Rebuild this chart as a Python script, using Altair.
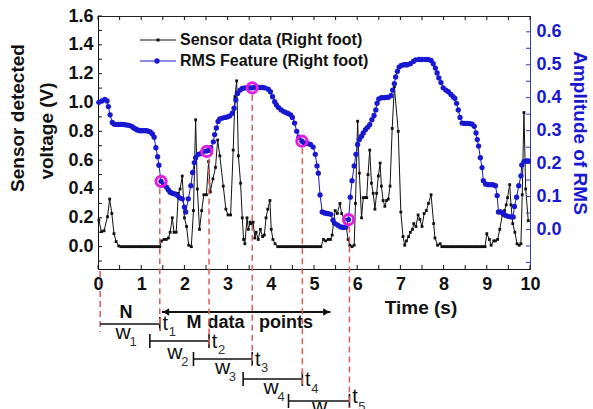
import altair as alt
import pandas as pd

# ---------------- data ----------------
sensor_t = [0.02, 0.08, 0.14, 0.22, 0.27, 0.32, 0.37, 0.42, 0.48,
            0.53, 0.58, 0.63, 0.68, 0.73, 0.78, 0.83, 0.88, 0.93, 0.98,
            1.03, 1.08, 1.13, 1.18, 1.23, 1.28, 1.33, 1.38, 1.43,
            1.47, 1.53, 1.58, 1.63, 1.67, 1.72, 1.76, 1.81, 1.86, 1.90,
            1.95, 2.00, 2.05, 2.10, 2.16, 2.21, 2.26, 2.30, 2.35, 2.40,
            2.45, 2.51, 2.56, 2.60, 2.66, 2.72, 2.77, 2.82, 2.90, 2.96,
            3.01, 3.07, 3.13, 3.17, 3.21, 3.25, 3.30, 3.34, 3.37, 3.40,
            3.45, 3.48, 3.52, 3.55, 3.59, 3.63, 3.66, 3.71, 3.76, 3.81,
            3.85, 3.89, 3.93, 3.98, 4.01, 4.05, 4.10,
            4.16, 4.21, 4.26, 4.31, 4.36, 4.41, 4.46, 4.51, 4.56, 4.61,
            4.66, 4.71, 4.76, 4.81, 4.86, 4.91, 4.96, 5.01, 5.06, 5.11, 5.16,
            5.22, 5.27, 5.33, 5.38, 5.42, 5.45, 5.49, 5.54, 5.60, 5.64,
            5.70, 5.75, 5.79, 5.83, 5.88, 5.93, 5.96, 6.01, 6.05, 6.10,
            6.14, 6.18, 6.22, 6.25, 6.29, 6.33, 6.37, 6.41, 6.45, 6.49,
            6.53, 6.56, 6.60, 6.64, 6.68, 6.72, 6.76, 6.81, 6.86, 6.95,
            7.01, 7.06, 7.10, 7.14, 7.19, 7.23, 7.28, 7.31, 7.36, 7.41,
            7.45, 7.50, 7.55, 7.60, 7.65, 7.71, 7.77, 7.80, 7.86, 7.92,
            7.96, 8.01, 8.06, 8.11, 8.16, 8.21, 8.26, 8.31, 8.36, 8.41,
            8.46, 8.51, 8.56, 8.61, 8.66, 8.71, 8.76, 8.81, 8.86, 8.91, 8.96,
            9.00, 9.06, 9.10, 9.16, 9.20, 9.25, 9.30, 9.36, 9.41, 9.45,
            9.48, 9.53, 9.56, 9.60, 9.65, 9.70, 9.75, 9.79, 9.82, 9.86,
            9.90, 9.96]
sensor_v = [0.185, 0.104, 0.110, 0.208, 0.330, 0.230, 0.090, 0.035, 0.005,
            0.0, 0.0, 0.0, 0.0, 0.0, 0.0, 0.0, 0.0, 0.0, 0.0,
            0.0, 0.0, 0.0, 0.0, 0.0, 0.0, 0.0, 0.0, 0.0,
            0.04, 0.05, 0.05, 0.06, 0.10, 0.20, 0.10, 0.10, 0.37, 0.40,
            0.49, 0.20, 0.14, 0.01, 0.00, 0.25, 0.88, 0.40, 0.12, 0.25,
            0.36, 0.36, 0.59, 0.38, 0.47, 0.55, 0.74, 0.63, 0.42, 0.26,
            0.22, 0.22, 0.67, 1.04, 1.15, 0.63, 0.44, 0.20, 0.05, 0.02,
            0.20, 0.12, 0.17, 0.16, 0.17, 0.06, 0.10, 0.05, 0.12, 0.07,
            0.08, 0.20, 0.26, 0.32, 0.12, 0.05, 0.02,
            0.0, 0.0, 0.0, 0.0, 0.0, 0.0, 0.0, 0.0, 0.0, 0.0,
            0.0, 0.0, 0.0, 0.0, 0.0, 0.0, 0.0, 0.0, 0.0, 0.0, 0.0,
            0.05, 0.04, 0.05, 0.05, 0.08, 0.16, 0.25, 0.23, 0.30, 0.23,
            0.19, 0.13, 0.05, 0.01, 0.00, 0.01, 0.30, 0.87, 0.51, 0.20,
            0.34, 0.34, 0.34, 0.50, 0.67, 0.44, 0.37, 0.26, 0.37, 0.49,
            0.58, 0.42, 0.32, 0.28, 0.32, 0.33, 0.42, 0.82, 1.11, 0.80,
            0.24, 0.07, 0.01, 0.04, 0.07, 0.10, 0.12, 0.16, 0.14, 0.22,
            0.19, 0.14, 0.23, 0.25, 0.30, 0.36, 0.16, 0.06, 0.01, 0.02,
            0.0, 0.0, 0.0, 0.0, 0.0, 0.0, 0.0, 0.0, 0.0, 0.0,
            0.0, 0.0, 0.0, 0.0, 0.0, 0.0, 0.0, 0.0, 0.0, 0.0, 0.0,
            0.09, 0.05, 0.01, 0.04, 0.04, 0.05, 0.12, 0.22, 0.25, 0.29,
            0.34, 0.43, 0.29, 0.16, 0.10, 0.02, 0.01, 0.02, 0.36, 0.93,
            0.40, 0.18]

rms_t = [0.02, 0.09, 0.16, 0.21, 0.24, 0.28, 0.33, 0.37, 0.42, 0.47,
         0.52, 0.57, 0.62, 0.67, 0.72, 0.78, 0.82, 0.86, 0.90, 0.93,
         0.97, 1.01, 1.05, 1.09, 1.13, 1.17, 1.21, 1.26, 1.30, 1.34,
         1.38, 1.41, 1.46, 1.52, 1.59, 1.63, 1.67, 1.72, 1.78, 1.84,
         1.89, 1.95, 2.00, 2.03, 2.09, 2.15, 2.19, 2.23, 2.26, 2.32,
         2.38, 2.43, 2.51, 2.56, 2.61, 2.67, 2.70, 2.74, 2.78, 2.82,
         2.88, 2.94, 3.00, 3.05, 3.11, 3.15, 3.19, 3.23, 3.29, 3.34,
         3.40, 3.46, 3.52, 3.57, 3.63, 3.69, 3.75, 3.81, 3.86, 3.94,
         3.99, 4.04, 4.09, 4.13, 4.18, 4.24, 4.30, 4.35, 4.40, 4.46,
         4.50, 4.55, 4.60, 4.65, 4.72, 4.77, 4.85, 4.92, 4.98, 5.03,
         5.07, 5.10, 5.14, 5.19, 5.25, 5.29, 5.33, 5.39, 5.44, 5.49,
         5.55, 5.61, 5.65, 5.69, 5.74, 5.80, 5.84, 5.88, 5.93, 5.97,
         6.01, 6.05, 6.10, 6.14, 6.19, 6.24, 6.29, 6.34, 6.39, 6.43,
         6.46, 6.50, 6.56, 6.62, 6.67, 6.72, 6.78, 6.82, 6.86, 6.89,
         6.93, 6.97, 7.02, 7.08, 7.12, 7.16, 7.23, 7.30, 7.35, 7.43,
         7.50, 7.58, 7.64, 7.71, 7.76, 7.81, 7.85, 7.89, 7.94, 7.99,
         8.05, 8.11, 8.17, 8.22, 8.26, 8.30, 8.34, 8.38, 8.43, 8.49,
         8.55, 8.61, 8.66, 8.71, 8.75, 8.78, 8.81, 8.85, 8.89, 8.92,
         8.97, 9.03, 9.09, 9.14, 9.20, 9.24, 9.27, 9.32, 9.38, 9.43,
         9.49, 9.55, 9.61, 9.64, 9.69, 9.74, 9.79, 9.81, 9.86, 9.91,
         9.96]
rms_a = [0.386, 0.390, 0.395, 0.390, 0.373, 0.348, 0.325, 0.320, 0.319, 0.319,
         0.319, 0.319, 0.318, 0.317, 0.316, 0.313, 0.309, 0.306, 0.303, 0.301,
         0.300, 0.300, 0.300, 0.300, 0.300, 0.298, 0.296, 0.290, 0.280, 0.248,
         0.221, 0.195, 0.146, 0.135, 0.128, 0.120, 0.113, 0.110, 0.108, 0.103,
         0.096, 0.093, 0.068, 0.053, 0.093, 0.133, 0.173, 0.203, 0.218, 0.228,
         0.230, 0.236, 0.238, 0.240, 0.248, 0.266, 0.288, 0.308, 0.328, 0.336,
         0.338, 0.340, 0.342, 0.345, 0.353, 0.368, 0.393, 0.413, 0.423, 0.428,
         0.430, 0.430, 0.430, 0.430, 0.431, 0.431, 0.431, 0.431, 0.430, 0.426,
         0.418, 0.403, 0.388, 0.378, 0.370, 0.363, 0.358, 0.355, 0.352, 0.348,
         0.340, 0.323, 0.298, 0.280, 0.268, 0.263, 0.261, 0.258, 0.250, 0.228,
         0.193, 0.171, 0.105, 0.053, 0.050, 0.049, 0.048, 0.046, 0.028, 0.018,
         0.013, 0.008, 0.007, 0.006, 0.008, 0.030, 0.098, 0.148, 0.193, 0.228,
         0.258, 0.273, 0.283, 0.293, 0.303, 0.310, 0.318, 0.333, 0.346, 0.363,
         0.383, 0.396, 0.400, 0.400, 0.401, 0.401, 0.406, 0.423, 0.443, 0.463,
         0.480, 0.493, 0.498, 0.500, 0.500, 0.500, 0.503, 0.510, 0.515, 0.516,
         0.516, 0.516, 0.516, 0.513, 0.503, 0.490, 0.475, 0.460, 0.446, 0.430,
         0.423, 0.418, 0.410, 0.403, 0.398, 0.383, 0.363, 0.340, 0.323, 0.322,
         0.322, 0.321, 0.320, 0.313, 0.293, 0.273, 0.253, 0.218, 0.188, 0.148,
         0.138, 0.136, 0.136, 0.136, 0.133, 0.103, 0.053, 0.053, 0.050, 0.043,
         0.040, 0.038, 0.038, 0.070, 0.098, 0.133, 0.163, 0.196, 0.206, 0.208,
         0.208]

# highlighted RMS samples (circles) and the instants t1..t5
circle_t = [1.46, 2.52, 3.57, 4.72, 5.80]
circle_a = [0.146, 0.237, 0.430, 0.268, 0.030]
instant_t = [1.43, 2.57, 3.57, 4.73, 5.82]
start_t = 0.05
# sliding windows w1..w5 (start, end)
win_start = [0.05, 1.20, 2.21, 3.36, 4.41]
win_end = [1.43, 2.57, 3.57, 4.73, 5.82]
arrow_t = [1.48, 5.38]

x_labels = [0, 1, 2, 3, 4, 5, 6, 7, 8, 9, 10]
v_labels = [0.0, 0.2, 0.4, 0.6, 0.8, 1.0, 1.2, 1.4, 1.6]
a_labels = [0.0, 0.1, 0.2, 0.3, 0.4, 0.5, 0.6]
x_minor = [0, 0.5, 1, 1.5, 2, 2.5, 3, 3.5, 4, 4.5, 5, 5.5, 6, 6.5, 7, 7.5,
           8, 8.5, 9, 9.5, 10]
v_minor = [-0.1, 0.0, 0.1, 0.2, 0.3, 0.4, 0.5, 0.6, 0.7, 0.8, 0.9, 1.0,
           1.1, 1.2, 1.3, 1.4, 1.5, 1.6]
a_minor = [-0.1, -0.05, 0.0, 0.05, 0.1, 0.15, 0.2, 0.25, 0.3, 0.35, 0.4,
           0.45, 0.5, 0.55, 0.6]

# ---------------- style ----------------
W, H = 432, 253
INK = "#111111"
BLUE = "#1818d0"
NAVY = "#3a3a9a"
MAG = "#e01ee0"
RED = "#dd5c5c"
FONT = "Liberation Sans"

xs = alt.Scale(domain=[0, 10], nice=False, zero=False)
xa = alt.Axis(values=x_labels, format="d", labelFontSize=18, labelFontWeight="bold",
              labelColor=INK, labelPadding=6, labelFlush=False, labelOverlap=False,
              ticks=False, grid=False, domainColor=INK, title=None)
vs = alt.Scale(domain=[-0.155, 1.6], nice=False, zero=False)
va = alt.Axis(values=v_labels, format=".1f", orient="left", labelFontSize=18,
              labelFontWeight="bold", labelColor=INK, labelPadding=5,
              labelOverlap=False, ticks=False, grid=False, domainColor=INK, title=None)
ascale = alt.Scale(domain=[-0.12, 0.648], nice=False, zero=False)
aa = alt.Axis(values=a_labels, format=".1f", orient="right", labelFontSize=18,
              labelFontWeight="bold", labelColor=BLUE, labelPadding=6,
              labelOverlap=False, ticks=False, grid=False, domainColor=NAVY, title=None)


def X(f):
    return alt.X(f, type="quantitative", scale=xs, axis=xa)


def YV(f):
    return alt.Y(f, type="quantitative", scale=vs, axis=va)


def YA(f):
    return alt.Y(f, type="quantitative", scale=ascale, axis=aa)


one = pd.DataFrame({"k": [0]})


def txt(text, x, y, size, weight="normal", color=INK, align="center",
        baseline="middle", angle=0):
    return alt.Chart(one).mark_text(
        text=text, fontSize=size, fontWeight=weight, color=color, align=align,
        baseline=baseline, angle=angle).encode(x=alt.value(x), y=alt.value(y))


L = []
R = []

# sensor series
sdf = pd.DataFrame({"t": sensor_t, "v": sensor_v})
L.append(alt.Chart(sdf).mark_line(color=INK, strokeWidth=1).encode(x=X("t"), y=YV("v")))
L.append(alt.Chart(sdf).mark_point(shape="square", filled=True, size=8, color=INK,
                                   opacity=1).encode(x=X("t"), y=YV("v")))

# inner ticks
L.append(alt.Chart(pd.DataFrame({"v": v_minor})).mark_rule(color=INK).encode(
    y=YV("v"), x=alt.value(0), x2=alt.value(4)))
tdf = pd.DataFrame({"t": x_minor})
L.append(alt.Chart(tdf).mark_rule(color=INK).encode(
    x=X("t"), y=alt.value(H), y2=alt.value(H - 4)))
L.append(alt.Chart(tdf).mark_rule(color=INK).encode(
    x=X("t"), y=alt.value(0), y2=alt.value(4)))

# legend (drawn by hand)
L.append(alt.Chart(one).mark_rule(color=INK, strokeWidth=1).encode(
    x=alt.value(42), x2=alt.value(78), y=alt.value(24)))
L.append(alt.Chart(one).mark_point(shape="square", filled=True, size=9, color=INK,
                                   opacity=1).encode(x=alt.value(60), y=alt.value(24)))
L.append(txt("Sensor data (Right foot)", 82, 24, 16, "bold", align="left"))
L.append(alt.Chart(one).mark_rule(color=BLUE, strokeWidth=1).encode(
    x=alt.value(42), x2=alt.value(78), y=alt.value(45)))
L.append(alt.Chart(one).mark_point(shape="circle", filled=True, size=28, color=BLUE,
                                   opacity=1).encode(x=alt.value(59), y=alt.value(45)))
L.append(txt("RMS Feature (Right foot)", 82, 45, 16, "bold", align="left"))

# axis titles
L.append(txt("Sensor detected", -74, 102, 19, "bold", baseline="alphabetic", angle=270))
L.append(txt("voltage (V)", -45, 115, 19, "bold", baseline="alphabetic", angle=270))
L.append(txt("Amplitude of RMS", 476, 117, 19, "bold", color=BLUE,
             baseline="alphabetic", angle=90))
L.append(txt("Time (s)", 323, 292, 19, "bold"))

# RMS series
rdf = pd.DataFrame({"t": rms_t, "a": rms_a})
R.append(alt.Chart(rdf).mark_line(color=BLUE, strokeWidth=1).encode(x=X("t"), y=YA("a")))
R.append(alt.Chart(rdf).mark_point(shape="circle", filled=True, size=28, color=BLUE,
                                   opacity=1).encode(x=X("t"), y=YA("a")))
R.append(alt.Chart(pd.DataFrame({"a": a_minor})).mark_rule(color=NAVY).encode(
    y=YA("a"), x=alt.value(W), x2=alt.value(W - 4)))

# annotation rows under the axis
row_y = [308, 325, 343, 363, 385]
w_dx = [23, 25, 29, 28, 31]
w_dy = [15, 18, 15, 15, 12]
t_dy = [0, 1, 1, 1, -4]
ts_dy = [8, 9, 9, 10, 6]

L.append(alt.Chart(pd.DataFrame({"t": [start_t]})).mark_rule(
    color=RED, strokeWidth=1.5, strokeDash=[6, 4]).encode(
    x=X("t"), y=alt.value(255), y2=alt.value(316)))

for i in range(5):
    ry = row_y[i]
    ddf = pd.DataFrame({"t": [instant_t[i]], "a": [circle_a[i]]})
    R.append(alt.Chart(ddf).mark_rule(color=RED, strokeWidth=1.5, strokeDash=[6, 4],
                                      yOffset=7).encode(
        x=X("t"), y=YA("a"), y2=alt.value(ry + 7)))
    wdf = pd.DataFrame({"s": [win_start[i]], "e": [win_end[i]]})
    base = alt.Chart(wdf)
    L.append(base.mark_rule(color=INK, strokeWidth=1.6).encode(
        x=X("s"), x2=alt.X2("e"), y=alt.value(ry)))
    L.append(base.mark_rule(color=INK, strokeWidth=1.6).encode(
        x=X("e"), y=alt.value(ry - 7), y2=alt.value(ry + 7)))
    if i > 0:
        L.append(base.mark_rule(color=INK, strokeWidth=1.6).encode(
            x=X("s"), y=alt.value(ry - 7), y2=alt.value(ry + 7)))
    L.append(base.mark_text(text="t", fontSize=20, color=INK, align="center",
                            baseline="middle", dx=5.5).encode(
        x=X("e"), y=alt.value(ry + t_dy[i])))
    L.append(base.mark_text(text=str(i + 1), fontSize=13, color="#333333", align="center",
                            baseline="middle", dx=12.5).encode(
        x=X("e"), y=alt.value(ry + ts_dy[i])))
    L.append(base.mark_text(text="w", fontSize=21, color=INK, align="center",
                            baseline="alphabetic", dx=w_dx[i]).encode(
        x=X("s"), y=alt.value(ry + w_dy[i])))
    L.append(base.mark_text(text=str(i + 1), fontSize=13, color="#333333", align="center",
                            baseline="middle", dx=w_dx[i] + 10).encode(
        x=X("s"), y=alt.value(ry + w_dy[i] + 3)))

# N and the M-data-points arrow
L.append(txt("N", 28, 297, 18, "bold"))
adf = pd.DataFrame({"s": [arrow_t[0]], "e": [arrow_t[1]]})
L.append(alt.Chart(adf).mark_rule(color=INK, strokeWidth=1.8).encode(
    x=X("s"), x2=alt.X2("e"), y=alt.value(296)))
L.append(alt.Chart(adf).mark_point(shape="triangle-left", filled=True, size=55, color=INK,
                                   opacity=1, xOffset=4).encode(x=X("s"), y=alt.value(296)))
L.append(alt.Chart(adf).mark_point(shape="triangle-right", filled=True, size=55, color=INK,
                                   opacity=1, xOffset=-4).encode(x=X("e"), y=alt.value(296)))
for word, wx in zip(["M", "data", "points"], [96, 128, 188]):
    L.append(txt(word, wx, 312, 18, "bold", baseline="alphabetic"))

# circles on top
cdf = pd.DataFrame({"t": circle_t, "a": circle_a})
R.append(alt.Chart(cdf).mark_point(shape="circle", filled=False, size=105, strokeWidth=3,
                                   color=MAG, opacity=1).encode(x=X("t"), y=YA("a")))

chart = alt.layer(alt.layer(*L), alt.layer(*R)).resolve_scale(y="independent").properties(
    width=W, height=H,
    autosize=alt.AutoSizeParams(type="none"),
    padding={"left": 98, "top": 16, "right": 63, "bottom": 140},
).configure(font=FONT, view=alt.ViewConfig(stroke="#222222", strokeWidth=1))

chart.save("out.html", embed_options={"renderer": "svg", "actions": False})
